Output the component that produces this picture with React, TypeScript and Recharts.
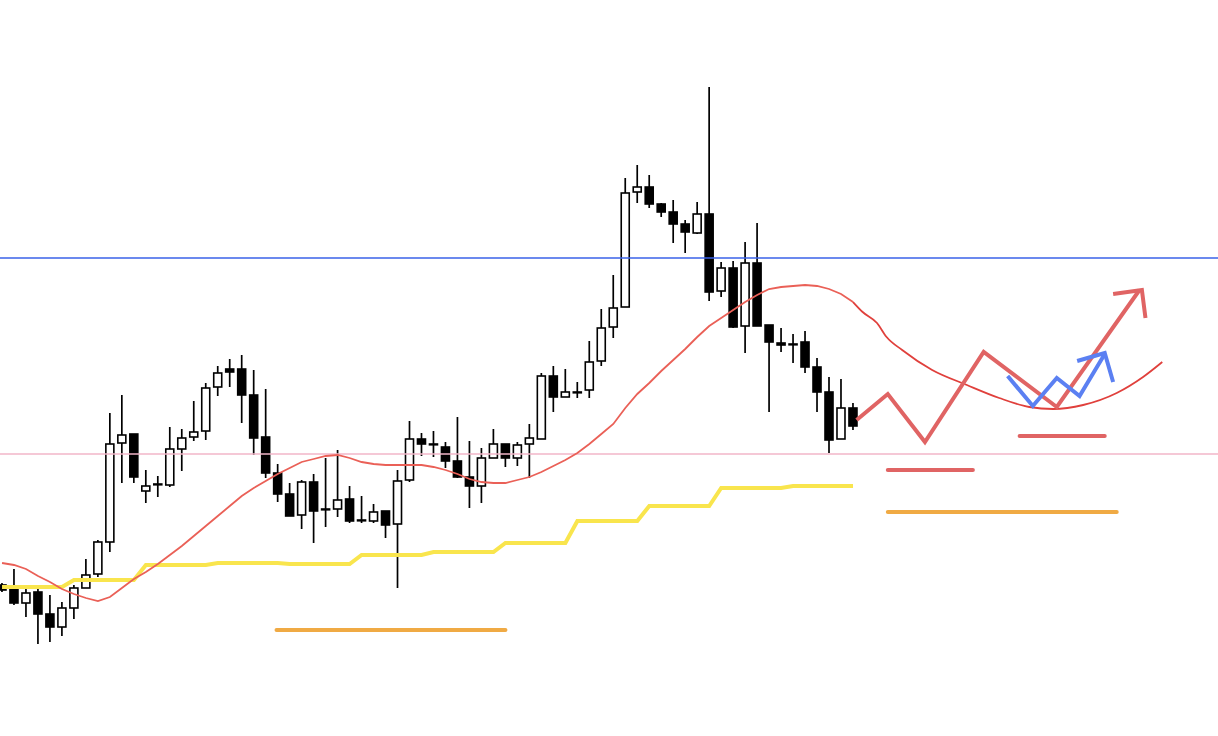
import React from 'react';
import { ComposedChart, XAxis, YAxis, Bar, Line, ReferenceLine } from 'recharts';

// candle values, one slot per bar (price units, higher = up)
const opens = [151, 147, 133, 144, 122, 109, 128, 148, 162, 194, 293, 302, 245, 252, 251, 287, 299, 305, 349, 367, 367, 341, 299, 263, 242, 221, 254, 227, 227, 237, 216, 215, 225, 212, 256, 297, 292, 289, 275, 259, 250, 278, 292, 278, 292, 297, 360, 339, 344, 346, 375, 409, 429, 544, 549, 532, 524, 512, 503, 522, 445, 468, 410, 473, 411, 393, 392, 394, 369, 344, 297, 328];
const closes = [146, 133, 143, 122, 109, 128, 148, 161, 194, 292, 301, 259, 250, 252, 287, 298, 304, 348, 363, 364, 341, 298, 263, 242, 220, 254, 225, 227, 236, 215, 216, 224, 211, 255, 297, 292, 292, 275, 259, 250, 278, 292, 278, 291, 298, 360, 339, 344, 344, 374, 408, 428, 543, 549, 532, 524, 512, 504, 522, 444, 468, 409, 473, 410, 394, 391, 392, 369, 344, 296, 328, 310];
const highs = [153, 167, 151, 148, 141, 134, 151, 177, 196, 323, 341, 302, 266, 260, 309, 307, 335, 353, 370, 377, 381, 366, 347, 272, 253, 256, 262, 278, 286, 250, 240, 232, 225, 266, 315, 303, 305, 294, 319, 295, 288, 307, 292, 294, 312, 363, 370, 367, 354, 395, 427, 461, 558, 571, 561, 533, 536, 516, 534, 649, 474, 475, 494, 513, 411, 408, 402, 405, 378, 359, 357, 333];
const lows = [144, 131, 119, 92, 94, 100, 117, 148, 159, 184, 253, 253, 233, 239, 249, 265, 295, 296, 340, 349, 313, 281, 258, 234, 220, 207, 193, 209, 219, 213, 213, 213, 198, 148, 254, 280, 279, 268, 258, 228, 233, 278, 269, 270, 258, 297, 324, 339, 338, 338, 370, 398, 429, 533, 528, 519, 493, 483, 502, 435, 439, 408, 383, 410, 324, 384, 373, 363, 324, 283, 297, 306];

// moving average (thin red) and the stepped yellow line
const maValues = [173, 171, 167, 160, 154, 147, 142, 138, 135, 139, 148, 157, 164, 172, 181, 190, 200, 210, 220, 230, 240, 248, 255, 262, 268, 274, 277, 280, 281, 278, 274, 272, 271, 271, 271, 271, 269, 266, 262, 257, 254, 253, 253, 256, 259, 264, 270, 276, 283, 292, 302, 312, 328, 342, 353, 365, 376, 387, 399, 410, 418, 426, 434, 441, 447, 449, 450, 451, 450, 447, 442, 434];
const stepValues = [149, 149, 149, 149, 149, 149, 156, 156, 156, 156, 156, 156, 171, 171, 171, 171, 171, 171, 173, 173, 173, 173, 173, 173, 172, 172, 172, 172, 172, 172, 181, 181, 181, 181, 181, 181, 184, 184, 184, 184, 184, 184, 193, 193, 193, 193, 193, 193, 215, 215, 215, 215, 215, 215, 230, 230, 230, 230, 230, 230, 248, 248, 248, 248, 248, 248, 250, 250, 250, 250, 250, 250];

// levels
const resistance = 478;
const support = 282;

// hand drawn scenario (x = bar slot)
const curveX = [71, 71.8, 73, 73.8, 75.1, 77.6, 80.5, 83.2, 85.7, 87.7, 90.2, 93, 95.2, 96.8];
const curveV = [434, 424, 413, 399, 386, 366, 351, 338, 329, 327, 331, 343, 359, 374];
const zigX = [71.3, 73.9, 77, 81.9, 88, 94.9];
const zigV = [316, 342, 294, 384, 329, 446];
const zigHeadX = [92.7, 95.1, 95.4];
const zigHeadV = [442, 446, 418];
const blueX = [83.9, 86, 88, 89.9, 92];
const blueV = [360, 330, 358, 340, 382];
const blueHeadX = [89.7, 92, 92.7];
const blueHeadV = [375, 383, 354];
const redLevels = [
  { from: 73.9, to: 81, v: 266 },
  { from: 84.9, to: 92, v: 300 },
];
const orangeLevels = [
  { from: 22.9, to: 42, v: 106 },
  { from: 73.9, to: 93, v: 224 },
];

const candles = opens.map((o, i) => ({
  x: i,
  open: o,
  close: closes[i],
  high: highs[i],
  low: lows[i],
  ma: maValues[i],
  step: stepValues[i],
}));

const pts = (xs: number[], vs: number[]) => xs.map((x, i) => ({ x, v: vs[i] }));

const Candle = (props: any) => {
  const { x, y, width, height, payload } = props;
  const { open, close, high, low } = payload;
  const h = Math.abs(height);
  const top0 = Math.min(y, y + height);
  const ppu = h / (high - low);
  const cx = x + width / 2;
  const top = top0 + (high - Math.max(open, close)) * ppu;
  const bot = top0 + (high - Math.min(open, close)) * ppu;
  const up = close >= open;
  return (
    <g>
      <line x1={cx} x2={cx} y1={top0} y2={top0 + h} stroke="#000" strokeWidth={1.7} />
      <rect
        x={cx - 4}
        y={top}
        width={8}
        height={Math.max(bot - top, 0.8)}
        fill={up ? '#fff' : '#000'}
        stroke="#000"
        strokeWidth={1.6}
      />
    </g>
  );
};

const lineProps = { dot: false, activeDot: false, isAnimationActive: false } as const;

const App = () => {
  return (
    <div style={{ position: 'fixed', left: 0, top: 0, width: 1218, height: 736, background: '#fff' }}>
      <ComposedChart width={1218} height={736} data={candles} margin={{ top: 0, right: 0, bottom: 0, left: 0 }}>
        <XAxis dataKey="x" type="number" domain={[-0.17, 101.45]} hide allowDataOverflow />
        <YAxis type="number" domain={[0, 736]} hide allowDataOverflow />
        <ReferenceLine y={support} stroke="#f2b6c8" strokeWidth={1.5} />
        <ReferenceLine y={resistance} stroke="#3a62e8" strokeWidth={1.5} />
        <Line dataKey="step" stroke="#f9e54d" strokeWidth={4} {...lineProps} />
        <Line dataKey="ma" stroke="#ea6057" strokeWidth={1.8} {...lineProps} />
        <Bar dataKey={(d: any) => [d.low, d.high]} barSize={9} shape={Candle} activeBar={false} isAnimationActive={false} />
        <Line data={pts(curveX, curveV)} dataKey="v" type="monotone" stroke="#e0403c" strokeWidth={1.8} {...lineProps} />
        {orangeLevels.map((s, i) => (
          <Line key={'o' + i} data={[{ x: s.from, v: s.v }, { x: s.to, v: s.v }]} dataKey="v" stroke="#f0aa44" strokeWidth={4} strokeLinecap="round" {...lineProps} />
        ))}
        {redLevels.map((s, i) => (
          <Line key={'r' + i} data={[{ x: s.from, v: s.v }, { x: s.to, v: s.v }]} dataKey="v" stroke="#e06464" strokeWidth={4} strokeLinecap="round" {...lineProps} />
        ))}
        <Line data={pts(zigX, zigV)} dataKey="v" stroke="#e06464" strokeWidth={4} {...lineProps} />
        <Line data={pts(zigHeadX, zigHeadV)} dataKey="v" stroke="#e06464" strokeWidth={4} {...lineProps} />
        <Line data={pts(blueX, blueV)} dataKey="v" stroke="#5b80f2" strokeWidth={4} {...lineProps} />
        <Line data={pts(blueHeadX, blueHeadV)} dataKey="v" stroke="#5b80f2" strokeWidth={4} {...lineProps} />
      </ComposedChart>
    </div>
  );
};

export default App;
